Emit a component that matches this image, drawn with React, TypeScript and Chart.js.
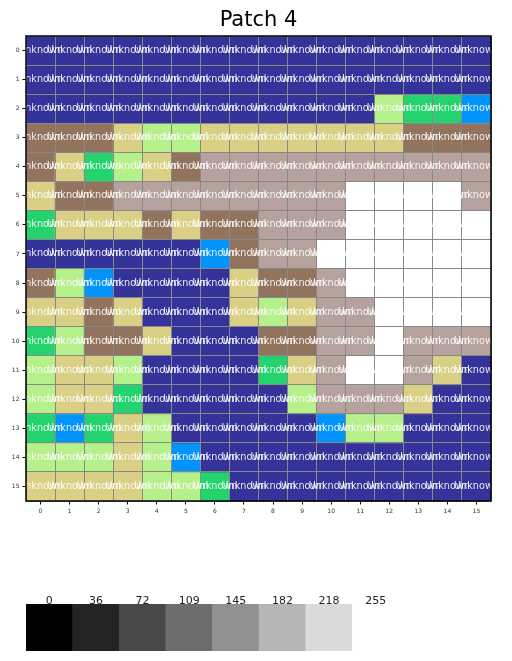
import React, { useEffect, useRef } from "react";
import { Chart, registerables } from "chart.js";

Chart.register(...registerables);

const chartTitle = "Patch 4";
const columnLabels = ["0", "1", "2", "3", "4", "5", "6", "7", "8", "9", "10", "11", "12", "13", "14", "15"];
const rowLabels = ["0", "1", "2", "3", "4", "5", "6", "7", "8", "9", "10", "11", "12", "13", "14", "15"];
const cellText = "Unknown";

// colour levels (class index -> colorbar value and terrain colour)
const levelValues = [0, 36, 72, 109, 145, 182, 218, 255];
const levelColors = ["#333399", "#0294fa", "#24d36d", "#b6f08a", "#dad085", "#92735e", "#b6a29d", "#ffffff"];

// class index of every cell, one array per row (top to bottom)
const row0 = [0, 0, 0, 0, 0, 0, 0, 0, 0, 0, 0, 0, 0, 0, 0, 0];
const row1 = [0, 0, 0, 0, 0, 0, 0, 0, 0, 0, 0, 0, 0, 0, 0, 0];
const row2 = [0, 0, 0, 0, 0, 0, 0, 0, 0, 0, 0, 0, 3, 2, 2, 1];
const row3 = [5, 5, 5, 4, 3, 3, 4, 4, 4, 4, 4, 4, 4, 5, 5, 5];
const row4 = [5, 4, 2, 3, 4, 5, 6, 6, 6, 6, 6, 6, 6, 6, 6, 6];
const row5 = [4, 5, 5, 6, 6, 6, 6, 6, 6, 6, 6, 7, 7, 7, 7, 6];
const row6 = [2, 4, 4, 4, 5, 4, 5, 5, 6, 6, 6, 7, 7, 7, 7, 7];
const row7 = [0, 0, 0, 0, 0, 0, 1, 5, 6, 6, 7, 7, 7, 7, 7, 7];
const row8 = [5, 3, 1, 0, 0, 0, 0, 4, 5, 5, 6, 7, 7, 7, 7, 7];
const row9 = [4, 4, 5, 4, 0, 0, 0, 4, 3, 4, 6, 6, 7, 7, 7, 7];
const row10 = [2, 3, 5, 5, 4, 0, 0, 0, 5, 5, 6, 6, 7, 6, 6, 6];
const row11 = [3, 4, 4, 3, 0, 0, 0, 0, 2, 4, 6, 7, 7, 6, 4, 0];
const row12 = [3, 4, 4, 2, 0, 0, 0, 0, 0, 3, 6, 6, 6, 4, 0, 0];
const row13 = [2, 1, 2, 4, 3, 0, 0, 0, 0, 0, 1, 3, 3, 0, 0, 0];
const row14 = [3, 3, 3, 4, 3, 1, 0, 0, 0, 0, 0, 0, 0, 0, 0, 0];
const row15 = [4, 4, 4, 4, 3, 3, 2, 0, 0, 0, 0, 0, 0, 0, 0, 0];
const patchRows = [row0, row1, row2, row3, row4, row5, row6, row7, row8, row9, row10, row11, row12, row13, row14, row15];

const FONT = "'DejaVu Sans', sans-serif";

const overlayPlugin = {
  id: "cellOverlay",
  afterDraw(chart: any) {
    const { ctx, chartArea: a } = chart;
    ctx.save();
    ctx.beginPath();
    ctx.rect(a.left, a.top, a.right - a.left, a.bottom - a.top);
    ctx.clip();
    ctx.font = `9.7px ${FONT}`;
    ctx.textAlign = "center";
    ctx.textBaseline = "middle";
    ctx.fillStyle = "rgba(255,255,255,0.88)";
    chart.data.datasets.forEach((_: any, i: number) => {
      const meta = chart.getDatasetMeta(i);
      meta.data.forEach((bar: any) => {
        const p = bar.getCenterPoint();
        ctx.fillText(cellText, p.x, p.y);
      });
    });
    ctx.restore();
    ctx.save();
    ctx.strokeStyle = "#000";
    ctx.lineWidth = 1.5;
    ctx.strokeRect(a.left, a.top, a.right - a.left, a.bottom - a.top);
    ctx.restore();
  },
};

function PatchChart() {
  const ref = useRef<HTMLCanvasElement>(null);
  useEffect(() => {
    if (!ref.current) return;
    const datasets = patchRows.map((row, r) => ({
      label: `row ${rowLabels[r]}`,
      data: row.map(() => 1),
      backgroundColor: row.map((c) => levelColors[c]),
      borderWidth: 0,
      barPercentage: 1,
      categoryPercentage: 1,
      stack: "grid",
      xAxisID: "x",
      yAxisID: "y",
    }));
    const chart = new Chart(ref.current, {
      type: "bar",
      data: { labels: columnLabels, datasets },
      options: {
        responsive: false,
        animation: false,
        events: [],
        layout: { padding: { left: 0, right: 21, top: 0, bottom: 0 } },
        plugins: {
          legend: { display: false },
          tooltip: { enabled: false },
          title: {
            display: true,
            fullSize: false,
            text: chartTitle,
            color: "#000",
            font: { family: FONT, size: 21, weight: "normal" },
            padding: { top: 8, bottom: 2.8 },
          },
        },
        scales: {
          x: {
            type: "category",
            position: "top",
            stacked: true,
            offset: true,
            grid: { offset: true, color: "#888888", lineWidth: 1, drawTicks: false, z: 1 },
            border: { display: false },
            ticks: { display: false },
            afterFit: (s: any) => { s.height = 0; },
          },
          xLabels: {
            type: "category",
            labels: columnLabels,
            position: "bottom",
            offset: true,
            grid: { offset: false, drawOnChartArea: false, drawTicks: true, tickLength: 3.5, color: "#000" },
            border: { display: false },
            ticks: { font: { family: FONT, size: 6 }, color: "#333", padding: 3, maxRotation: 0, autoSkip: false },
            afterFit: (s: any) => { s.height = 19; },
          },
          y: {
            type: "linear",
            position: "right",
            stacked: true,
            reverse: true,
            min: 0,
            max: 16,
            grid: { color: "#888888", lineWidth: 1, drawTicks: false, z: 1 },
            border: { display: false },
            ticks: { display: false, stepSize: 1 },
            afterFit: (s: any) => { s.width = 0; },
          },
          yLabels: {
            type: "category",
            labels: rowLabels,
            position: "left",
            offset: true,
            grid: { offset: false, drawOnChartArea: false, drawTicks: true, tickLength: 3.5, color: "#000" },
            border: { display: false },
            ticks: { font: { family: FONT, size: 6 }, color: "#333", padding: 3, autoSkip: false },
            afterFit: (s: any) => { s.width = 26; },
          },
        },
      } as any,
      plugins: [overlayPlugin],
    });
    return () => chart.destroy();
  }, []);
  return <canvas ref={ref} width={512} height={520} style={{ position: "absolute", left: 0, top: 0, width: 512, height: 520 }} />;
}

function ColorBar() {
  const ref = useRef<HTMLCanvasElement>(null);
  useEffect(() => {
    if (!ref.current) return;
    const chart = new Chart(ref.current, {
      type: "bar",
      data: {
        labels: levelValues.map(String),
        datasets: [
          {
            label: "levels",
            data: levelValues.map(() => 1),
            backgroundColor: levelValues.map((v) => `rgb(${v},${v},${v})`),
            borderWidth: 0,
            barPercentage: 1,
            categoryPercentage: 1,
          },
        ],
      },
      options: {
        responsive: false,
        animation: false,
        events: [],
        layout: { padding: { left: 26, right: 113, top: 0, bottom: 4 } },
        plugins: { legend: { display: false }, tooltip: { enabled: false } },
        scales: {
          x: {
            position: "top",
            grid: { display: false, drawTicks: false },
            border: { display: false },
            ticks: { font: { family: FONT, size: 11 }, color: "#222", padding: -3.5, maxRotation: 0, autoSkip: false },
            afterFit: (s: any) => { s.height = 19; },
          },
          y: { display: false, min: 0, max: 1 },
        },
      } as any,
    });
    return () => chart.destroy();
  }, []);
  return <canvas ref={ref} width={512} height={70} style={{ position: "absolute", left: 0, top: 585, width: 512, height: 70 }} />;
}

export default function App() {
  return (
    <div style={{ position: "fixed", left: 0, top: 0, width: 512, height: 661, background: "#fff", overflow: "hidden" }}>
      <PatchChart />
      <ColorBar />
    </div>
  );
}
